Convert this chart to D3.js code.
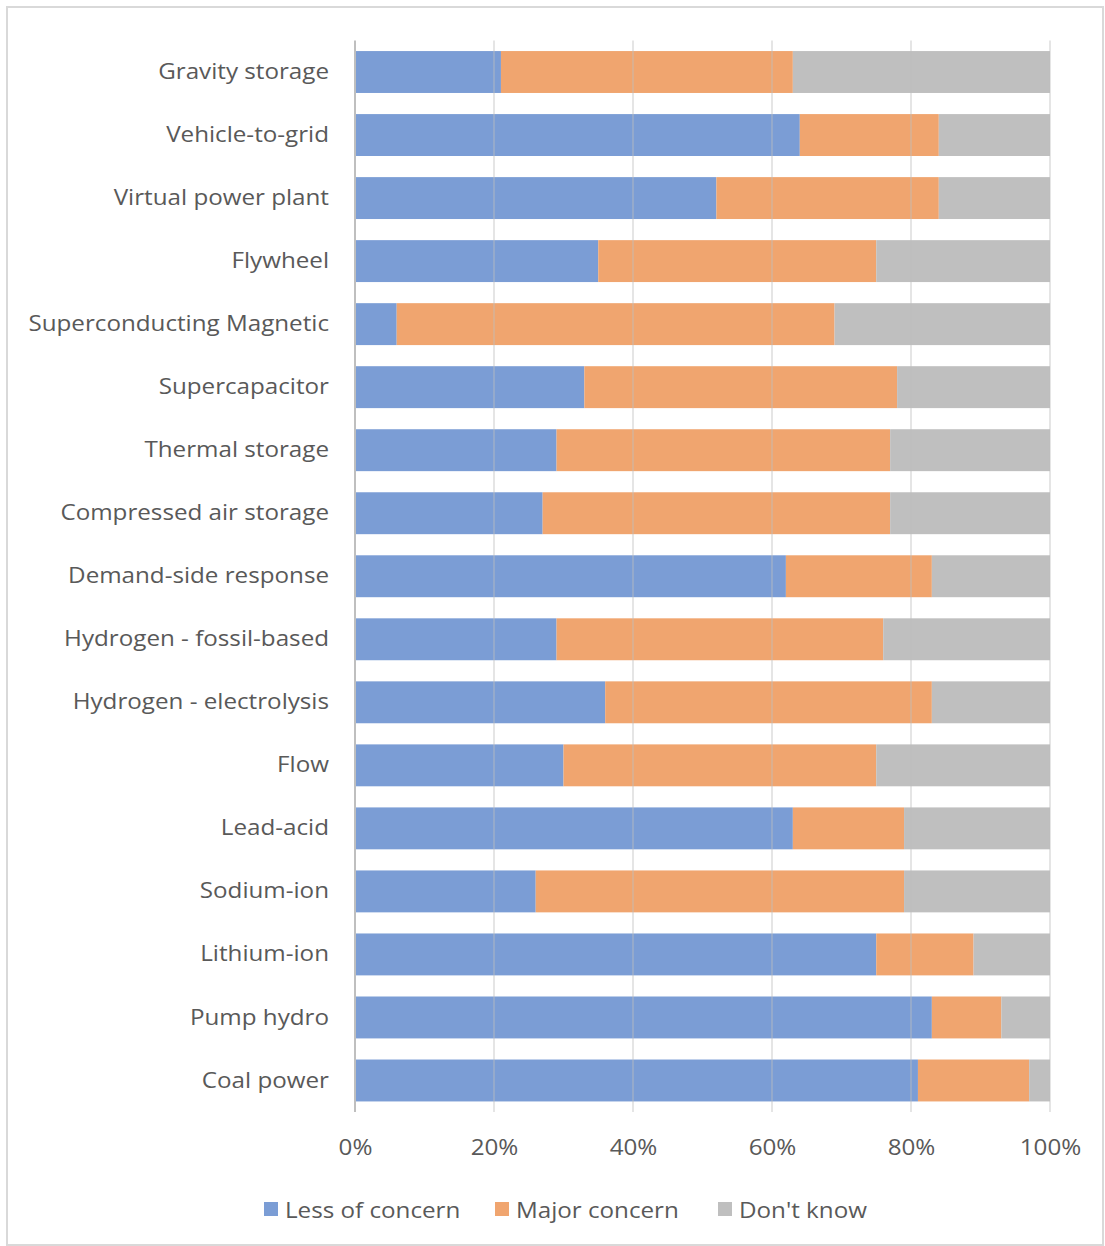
<!DOCTYPE html>
<html><head><meta charset="utf-8">
<script src="https://cdn.jsdelivr.net/npm/d3@7"></script>
<style>body{margin:0;background:#fff}svg{display:block}</style>
</head><body>
<script>
const categories = ["Gravity storage","Vehicle-to-grid","Virtual power plant","Flywheel","Superconducting Magnetic","Supercapacitor","Thermal storage","Compressed air storage","Demand-side response","Hydrogen - fossil-based","Hydrogen - electrolysis","Flow","Lead-acid","Sodium-ion","Lithium-ion","Pump hydro","Coal power"];
const lessOfConcern = [21,64,52,35,6,33,29,27,62,29,36,30,63,26,75,83,81];
const majorConcern  = [42,20,32,40,63,45,48,50,21,47,47,45,16,53,14,10,16];
const dontKnow      = [37,16,16,25,31,22,23,23,17,24,17,25,21,21,11,7,3];
const seriesNames = ["Less of concern","Major concern","Don't know"];
const colors = ["#7b9dd5","#f0a56f","#bfbfbf"];
const tickValues = [0,0.2,0.4,0.6,0.8,1.0];

(function(){
const W=1105,H=1246;
const font = "'Open Sans', sans-serif";
const fs = 22, sx = 1.1;
const svg=d3.select("body").append("svg").attr("width",W).attr("height",H);
svg.append("rect").attr("x",7).attr("y",7).attr("width",W-9).attr("height",H-8)
  .attr("fill","#fff").attr("stroke","#d9d9d9").attr("stroke-width",2);

const pL=355,pR=1050,pT=40.5,pB=1112;
const x=d3.scaleLinear().domain([0,1]).range([pL,pR]);
const y=d3.scaleBand().domain(categories).range([pT,pB]).paddingInner(0.335).paddingOuter(0.1675);

const rows = categories.map((c,i)=>({cat:c, v:[lessOfConcern[i],majorConcern[i],dontKnow[i]]}));
rows.forEach(r=>{
  const tot=d3.sum(r.v); let acc=0;
  r.segs=r.v.map((v,k)=>{const s={k,x0:acc/tot,x1:(acc+v)/tot}; acc+=v; return s;});
});
const g=svg.append("g");
rows.forEach(r=>{
  g.selectAll(null).data(r.segs).enter().append("rect")
   .attr("x",d=>x(d.x0)).attr("width",d=>x(d.x1)-x(d.x0))
   .attr("y",y(r.cat)).attr("height",y.bandwidth())
   .attr("fill",d=>colors[d.k]);
});
svg.append("g").selectAll("line").data(tickValues.slice(1)).enter().append("line")
  .attr("x1",d=>x(d)).attr("x2",d=>x(d)).attr("y1",pT).attr("y2",pB)
  .attr("stroke","#bfbfbf").attr("stroke-opacity",0.4).attr("stroke-width",2);
svg.append("line").attr("x1",pL).attr("x2",pL).attr("y1",pT).attr("y2",pB)
  .attr("stroke","#bfbfbf").attr("stroke-width",2);

const xa=svg.append("g").attr("transform",`translate(0,${pB})`)
  .call(d3.axisBottom(x).tickValues(tickValues).tickFormat(d3.format(".0%")).tickSize(0).tickPadding(27));
xa.select(".domain").remove();
xa.selectAll("text").attr("font-family",font).attr("font-size",fs).attr("fill","#595959")
  .attr("transform",`scale(${sx},1)`);

const ya=svg.append("g").attr("transform",`translate(${pL},0)`)
  .call(d3.axisLeft(y).tickSize(0).tickPadding(26));
ya.select(".domain").remove();
ya.selectAll("text").attr("font-family",font).attr("font-size",fs).attr("fill","#595959")
  .attr("x",-26/sx).attr("transform",`scale(${sx},1)`);

const legX=[264,495,718];
const leg=svg.append("g");
seriesNames.forEach((n,i)=>{
  leg.append("rect").attr("x",legX[i]).attr("y",1202).attr("width",14).attr("height",14).attr("fill",colors[i]);
  leg.append("text").attr("x",(legX[i]+21)/sx).attr("y",1218).attr("transform",`scale(${sx},1)`)
    .attr("font-family",font).attr("font-size",fs).attr("fill","#595959").text(n);
});
})();
</script>
</body></html>
